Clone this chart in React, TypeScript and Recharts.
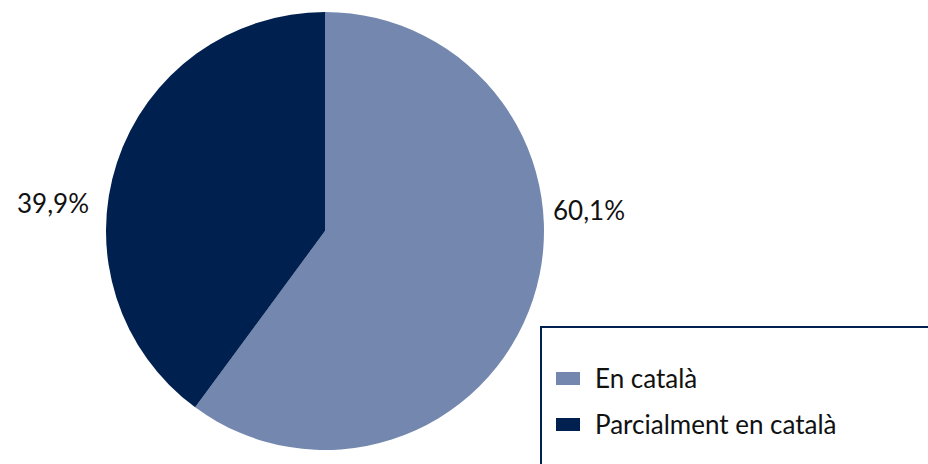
import * as React from "react";
import { Legend, Pie, PieChart } from "recharts";

const NAMES = ["En català", "Parcialment en català"];
const VALUES = [60.1, 39.9];
const LABELS = ["60,1%", "39,9%"];
const COLORS = ["#7488AF", "#00204F"];

const FONT = "Lato, 'Open Sans', sans-serif";
const INK = "#111111";

const data = NAMES.map((name, i) => ({ name, value: VALUES[i], label: LABELS[i], fill: COLORS[i] }));

function renderLabel(props: any) {
  const { cx, cy, outerRadius, midAngle, index } = props;
  const right = Math.cos((-midAngle * Math.PI) / 180) > 0;
  const x = right ? cx + outerRadius + 9 : cx - outerRadius - 17;
  const y = right ? cy - 11 : cy - 18;
  return (
    <text x={x} y={y} textAnchor={right ? "start" : "end"} fill={INK} fontFamily={FONT} fontSize={26}>
      {data[index].label}
    </text>
  );
}

function LegendBox() {
  return (
    <div style={{ paddingTop: 27, paddingLeft: 14 }}>
      {NAMES.map((n, i) => (
        <div key={n} style={{ display: "flex", alignItems: "center", height: 46 }}>
          <span style={{ width: 24, height: 13, background: COLORS[i], display: "inline-block", marginRight: 15 }} />
          <span style={{ fontFamily: FONT, fontSize: 26, color: INK }}>{n}</span>
        </div>
      ))}
    </div>
  );
}

export default function App() {
  return (
    <div style={{ position: "fixed", left: 0, top: 0, width: 928, height: 464, overflow: "hidden", background: "#fff" }}>
      <PieChart width={928} height={464} margin={{ top: 0, right: 0, bottom: 0, left: 0 }}>
        <Pie
          data={data}
          dataKey="value"
          nameKey="name"
          cx={325}
          cy={231}
          outerRadius={219}
          startAngle={90}
          endAngle={-270}
          stroke="none"
          label={renderLabel}
          labelLine={false}
          isAnimationActive={false}
        />
        <Legend
          content={<LegendBox />}
          wrapperStyle={{
            position: "absolute",
            left: 540,
            top: 326,
            width: 420,
            height: 170,
            border: "2px solid #00204F",
            boxSizing: "border-box",
            background: "#fff",
          }}
        />
      </PieChart>
    </div>
  );
}
